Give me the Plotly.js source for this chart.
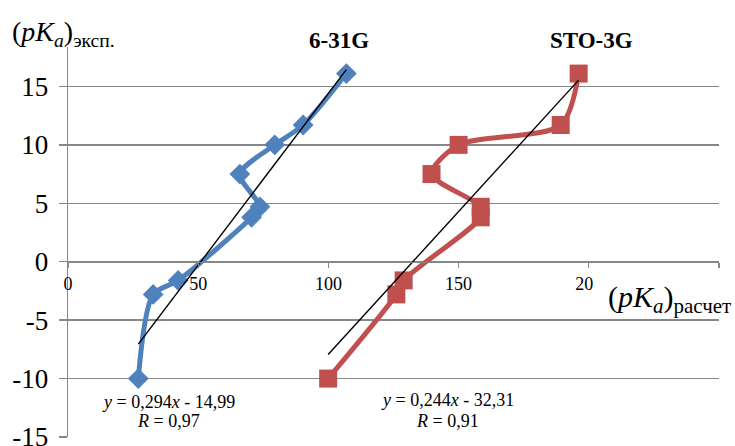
<!DOCTYPE html>
<html>
<head>
<meta charset="utf-8">
<script src="https://cdn.plot.ly/plotly-3.0.1.min.js"></script>
<style>
  html, body { margin: 0; padding: 0; background: #fff; }
  #chart { width: 735px; height: 446px; }
</style>
</head>
<body>
<div id="chart"></div>
<script>
// Experimental pKa values (y) shared by both basis sets
const pkaExp = [-10, -2.8, -1.6, 3.8, 4.7, 7.5, 10, 11.7, 16.1];
// Calculated values (x) for each basis set
const pkaCalc631G = [27.0, 32.7, 42.3, 70.5, 73.7, 66.0, 79.4, 90.3, 106.9];
const pkaCalcSTO3G = [99.9, 126.1, 128.9, 158.5, 158.5, 139.6, 150.0, 189.2, 196.1];
const basisNames = ['6-31G', 'STO-3G'];
// Linear fit parameters: y = slope * x + intercept, correlation R
const fitSlope = [0.294, 0.244];
const fitIntercept = [-14.99, -32.31];
const fitR = [0.97, 0.91];
const xTicks = [0, 50, 100, 150, 200, 250];
const xTickText = ['0', '50', '100', '150', '200', ''];
const yTicks = [-15, -10, -5, 0, 5, 10, 15, 20];
const yTickText = ['-15', '-10', '-5', '0', '5', '10', '15', ''];

const W = 735, H = 446, L = 68, R = 16, T = 28, B = 9;
const pw = W - L - R, ph = H - T - B;
const fx = p => (p - L) / pw;          // pixel -> paper x
const fy = p => (H - B - p) / ph;      // pixel -> paper y

const serif = '"Liberation Serif", "Times New Roman", serif';
const blue = '#4F81BD', red = '#C0504D', grid = '#878787';

const series = [
  { x: pkaCalc631G, color: blue, symbol: 'diamond', size: 16 },
  { x: pkaCalcSTO3G, color: red, symbol: 'square', size: 18 }
];

const traces = [];
series.forEach((s, i) => {
  traces.push({
    x: s.x, y: pkaExp, type: 'scatter', mode: 'lines+markers',
    name: basisNames[i],
    line: { color: s.color, width: 5, shape: 'spline', smoothing: 0.8 },
    marker: { color: s.color, symbol: s.symbol, size: s.size },
    hoverinfo: 'x+y'
  });
});
// Trend lines over the range of each series
series.forEach((s, i) => {
  const x0 = Math.min(...s.x), x1 = Math.max(...s.x);
  traces.push({
    x: [x0, x1],
    y: [fitSlope[i] * x0 + fitIntercept[i], fitSlope[i] * x1 + fitIntercept[i]],
    type: 'scatter', mode: 'lines',
    line: { color: '#000', width: 1.4 },
    hoverinfo: 'skip'
  });
});

const num = (v, d) => v.toFixed(d).replace('.', ',');
const eqText = i => '<i>y</i> = ' + num(fitSlope[i], 3) + '<i>x</i> ' +
  (fitIntercept[i] < 0 ? '- ' : '+ ') + num(Math.abs(fitIntercept[i]), 2);
const rText = i => '<i>R</i> = ' + num(fitR[i], 2);

const eqPos = [{ x: 168, y1: 402, y2: 421 }, { x: 447, y1: 400, y2: 421 }];
const titlePos = [{ x: 339, y: 40 }, { x: 591, y: 40 }];

const annotations = [];
basisNames.forEach((n, i) => {
  annotations.push({
    xref: 'paper', yref: 'paper', x: fx(titlePos[i].x), y: fy(titlePos[i].y),
    xanchor: 'center', yanchor: 'middle', showarrow: false,
    text: '<b>' + n + '</b>', font: { family: serif, size: 23, color: '#000' }
  });
  annotations.push({
    xref: 'paper', yref: 'paper', x: fx(eqPos[i].x), y: fy(eqPos[i].y1),
    xanchor: 'center', yanchor: 'middle', showarrow: false,
    text: eqText(i), font: { family: serif, size: 18, color: '#000' }
  });
  annotations.push({
    xref: 'paper', yref: 'paper', x: fx(eqPos[i].x), y: fy(eqPos[i].y2),
    xanchor: 'center', yanchor: 'middle', showarrow: false,
    text: rText(i), font: { family: serif, size: 18, color: '#000' }
  });
});
// Axis titles
annotations.push({
  xref: 'paper', yref: 'paper', x: fx(10), y: fy(33),
  xanchor: 'left', yanchor: 'middle', showarrow: false,
  text: '(<i>pK</i><sub><i>a</i></sub>)<sub>эксп.</sub>',
  font: { family: serif, size: 28, color: '#000' }
});
annotations.push({
  xref: 'paper', yref: 'paper', x: fx(606), y: fy(299),
  xanchor: 'left', yanchor: 'middle', showarrow: false,
  text: '(<i>pK</i><sub><i>a</i></sub>)<sub>расчет</sub>',
  font: { family: serif, size: 30, color: '#000' }
});

// White boxes behind the axis titles
const shapes = [
  { type: 'rect', xref: 'paper', yref: 'paper', layer: 'above',
    x0: fx(0), x1: fx(185), y0: fy(47), y1: fy(0),
    fillcolor: '#fff', line: { width: 0 } },
  { type: 'rect', xref: 'paper', yref: 'paper', layer: 'above',
    x0: fx(593), x1: fx(735), y0: fy(316), y1: fy(272),
    fillcolor: '#fff', line: { width: 0 } }
];

const layout = {
  width: W, height: H,
  margin: { l: L, r: R, t: T, b: B, pad: 0 },
  paper_bgcolor: '#fff', plot_bgcolor: '#fff',
  showlegend: false,
  font: { family: serif, color: '#000' },
  xaxis: {
    range: [0, 250], tickvals: xTicks, ticktext: xTickText,
    anchor: 'free', position: 15 / 35,
    showgrid: false, zeroline: false,
    showline: true, linecolor: grid, linewidth: 1.3,
    ticks: 'outside', ticklen: 5, tickcolor: grid, tickwidth: 1.3,
    ticklabeloverflow: 'allow',
    tickfont: { family: serif, size: 18, color: '#000' }
  },
  yaxis: {
    range: [-15, 20], tickvals: yTicks, ticktext: yTickText,
    showgrid: true, gridcolor: grid, gridwidth: 1.3, zeroline: false,
    showline: true, linecolor: grid, linewidth: 1.3,
    ticks: 'outside', ticklen: 8, tickcolor: grid, tickwidth: 1.3,
    ticklabelstandoff: 5, ticklabeloverflow: 'allow',
    tickfont: { family: serif, size: 27, color: '#000' }
  },
  annotations: annotations,
  shapes: shapes
};

Plotly.newPlot('chart', traces, layout, { staticPlot: true, displayModeBar: false });
</script>
</body>
</html>
